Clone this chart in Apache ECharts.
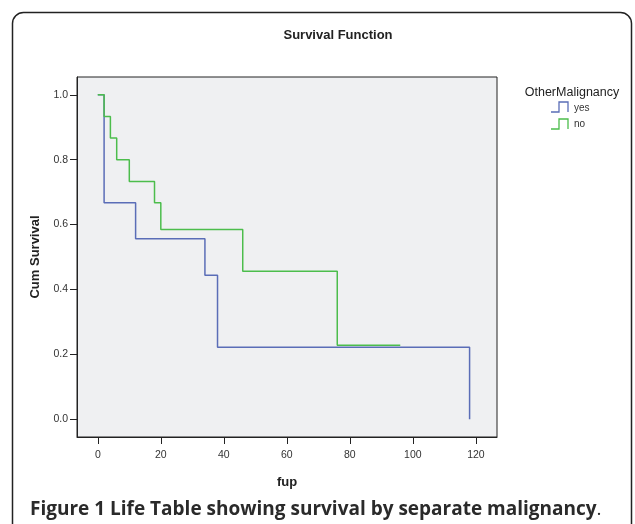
<!DOCTYPE html>
<html>
<head>
<meta charset="utf-8">
<script src="https://cdn.jsdelivr.net/npm/echarts@6/dist/echarts.min.js"></script>
<style>
html,body{margin:0;padding:0;background:#fff;}
#chart{width:635px;height:524px;}
</style>
</head>
<body>
<div id="chart"></div>
<script>
// ---- data ----
var chartTitle = 'Survival Function';
var xName = 'fup';
var yName = 'Cum Survival';
var legendTitle = 'OtherMalignancy';
var seriesNames = ['yes', 'no'];
var seriesColors = ['#5a6db7', '#4cbd4c'];
var xTicks = [0, 20, 40, 60, 80, 100, 120];
var yTicks = [0, 0.2, 0.4, 0.6, 0.8, 1.0];
var caption = 'Figure 1 Life Table showing survival by separate malignancy';

// step points (time, cumulative survival)
var yesTimes = [0, 2, 12, 34, 38, 118, 118];
var yesSurv  = [1.0, 0.667, 0.556, 0.444, 0.222, 0.222, 0.0];
var noTimes  = [0, 2, 4, 6, 10, 18, 20, 46, 76, 96];
var noSurv   = [1.0, 0.933, 0.867, 0.800, 0.733, 0.667, 0.585, 0.456, 0.228, 0.228];

function pairs(xs, ys){ return xs.map(function(x,i){ return [x, ys[i]]; }); }

var chart = echarts.init(document.getElementById('chart'), null, {renderer:'canvas'});
var font = 'Liberation Sans, Arial, sans-serif';

function legendIcon(x, y, color){
  return {
    type:'polyline',
    shape:{points:[[x,y+10],[x+8,y+10],[x+8,y],[x+17,y],[x+17,y+10]]},
    style:{stroke:color, lineWidth:1.3, fill:null}
  };
}

var option = {
  animation:false,
  backgroundColor:'#ffffff',
  title:{
    text: chartTitle,
    left: 333, top: 24, textAlign:'center',
    textStyle:{fontFamily:font, fontWeight:'bold', fontSize:13, color:'#222'}
  },
  grid:{
    left:77, top:77, right:138, bottom:87,
    show:true, backgroundColor:'#eff0f2', borderColor:'#222', borderWidth:1
  },
  xAxis:{
    type:'value', min:-6.6, max:126.7,
    name: xName, nameLocation:'middle', nameGap:39,
    nameTextStyle:{fontFamily:font, fontWeight:'bold', fontSize:13, color:'#222'},
    axisLine:{show:true, onZero:false, lineStyle:{color:'#222', width:1}},
    axisTick:{show:true, length:7, inside:false, customValues:xTicks, lineStyle:{color:'#222'}},
    axisLabel:{customValues:xTicks, fontFamily:font, fontSize:10.5, color:'#333', margin:13},
    splitLine:{show:false}
  },
  yAxis:{
    type:'value', min:-0.055, max:1.055,
    name: yName, nameLocation:'middle', nameGap:35,
    nameTextStyle:{fontFamily:font, fontWeight:'bold', fontSize:13, color:'#222'},
    axisLine:{show:true, onZero:false, lineStyle:{color:'#222', width:1}},
    axisTick:{show:true, length:7, customValues:yTicks, lineStyle:{color:'#222'}},
    axisLabel:{customValues:yTicks, fontFamily:font, fontSize:10.5, color:'#333', margin:9,
      formatter:function(v){ return v.toFixed(1); }},
    splitLine:{show:false}
  },
  series:[
    {
      name: seriesNames[0], type:'line', step:'end', symbol:'none',
      data: pairs(yesTimes, yesSurv),
      lineStyle:{color:seriesColors[0], width:1.5}, itemStyle:{color:seriesColors[0]}
    },
    {
      name: seriesNames[1], type:'line', step:'end', symbol:'none',
      data: pairs(noTimes, noSurv),
      lineStyle:{color:seriesColors[1], width:1.5}, itemStyle:{color:seriesColors[1]}
    }
  ],
  graphic:[
    {type:'rect', shape:{x:12.5, y:12.5, width:619, height:620, r:11},
     style:{fill:null, stroke:'#222', lineWidth:1.5}, z:-1},
    {type:'text', x:572, y:93, style:{text:legendTitle, font:'12.5px '+font, fill:'#222', align:'center', verticalAlign:'middle'}},
    legendIcon(551, 102, seriesColors[0]),
    {type:'text', x:574, y:108, style:{text:seriesNames[0], font:'10px '+font, fill:'#333', verticalAlign:'middle'}},
    legendIcon(551, 119, seriesColors[1]),
    {type:'text', x:574, y:124, style:{text:seriesNames[1], font:'10px '+font, fill:'#333', verticalAlign:'middle'}},
    {type:'text', x:30, y:510, style:{
      text:'{b|' + caption + '}{n|.}',
      verticalAlign:'middle',
      rich:{
        b:{font:'bold 19px "Open Sans", sans-serif', fill:'#2a2a2a'},
        n:{font:'19px "Open Sans", sans-serif', fill:'#2a2a2a'}
      }
    }}
  ]
};
chart.setOption(option);
</script>
</body>
</html>
